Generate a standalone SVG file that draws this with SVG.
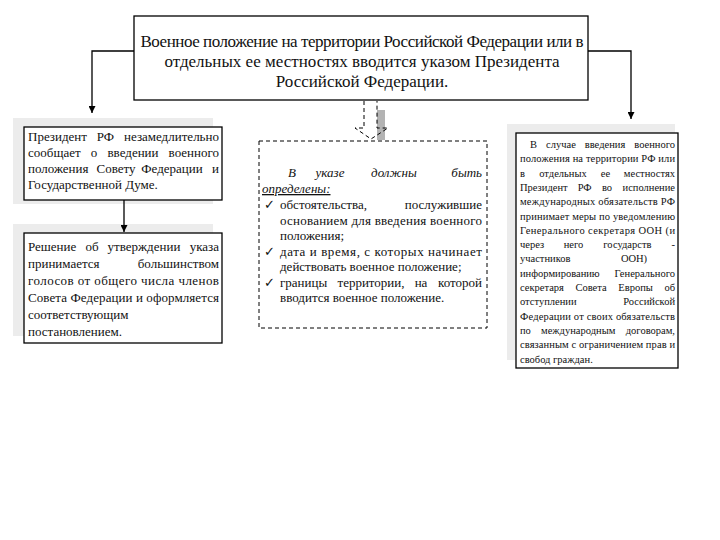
<svg xmlns="http://www.w3.org/2000/svg" width="720" height="540" viewBox="0 0 720 540">
<defs>
<marker id="ah" viewBox="0 0 10 10" refX="10" refY="5" markerWidth="7" markerHeight="7" markerUnits="userSpaceOnUse" orient="auto"><path d="M0,0 L10,5 L0,10 z" fill="#000"/></marker>
<style>
text{font-family:"Liberation Serif","DejaVu Serif",serif;fill:#111}
.t{font-size:17px}
.l{font-size:13px}
.c{font-size:13px}
.r{font-size:10.5px}
.s{text-anchor:start}.m{text-anchor:middle}.e{text-anchor:end}
.box{fill:#fff;stroke:#000;stroke-width:1.3}
.sh{fill:#ececec}
.conn{fill:none;stroke:#000;stroke-width:1.3}
</style>
</defs>
<rect width="720" height="540" fill="#fff"/>

<g id="shadows">
<rect class="sh" x="13" y="118" width="200" height="86"/>
<rect class="sh" x="13" y="224" width="200" height="112"/>
<rect class="sh" x="507" y="124" width="168" height="236"/>
</g>

<g id="connectors">
<path class="conn" d="M134,51 H92 V113" marker-end="url(#ah)"/>
<path class="conn" d="M588,51 H631 V119" marker-end="url(#ah)"/>
<path class="conn" d="M124,200 V232" marker-end="url(#ah)"/>
<rect x="377" y="110" width="8" height="30" fill="#b3b3b3"/>
<path d="M364,101 V128 H355 L371,139 L388,128 H377 V101" fill="none" stroke="#000" stroke-width="1" stroke-dasharray="4,3"/>
</g>

<g id="top">
<rect class="box" x="134" y="16" width="454" height="84"/>
<text class="t m" x="362" y="47" textLength="443" lengthAdjust="spacing">Военное положение на территории Российской Федерации или в</text>
<text class="t m" x="362" y="67">отдельных ее местностях вводится указом Президента</text>
<text class="t m" x="362" y="87">Российской Федерации.</text>
</g>

<g id="box1">
<rect class="box" x="24" y="127" width="198" height="73"/>
<text class="l"><tspan class="s" x="28" y="141">Президент</tspan><tspan class="m" x="105.5" y="141">РФ</tspan><tspan class="e" x="219" y="141">незамедлительно</tspan></text>
<text class="l"><tspan class="s" x="28" y="157">сообщает</tspan><tspan class="m" x="94" y="157">о</tspan><tspan class="m" x="133" y="157">введении</tspan><tspan class="e" x="219" y="157">военного</tspan></text>
<text class="l"><tspan class="s" x="28" y="173">положения</tspan><tspan class="m" x="116" y="173">Совету</tspan><tspan class="m" x="172" y="173">Федерации</tspan><tspan class="e" x="219" y="173">и</tspan></text>
<text class="l s" x="28" y="189">Государственной Думе.</text>
</g>

<g id="box2">
<rect class="box" x="24" y="233" width="198" height="110"/>
<text class="l"><tspan class="s" x="28" y="251">Решение</tspan><tspan class="m" x="92" y="251">об</tspan><tspan class="m" x="144" y="251">утверждении</tspan><tspan class="e" x="219" y="251">указа</tspan></text>
<text class="l"><tspan class="s" x="28" y="268">принимается</tspan><tspan class="e" x="219" y="268">большинством</tspan></text>
<text class="l s" x="28" y="285" textLength="191" lengthAdjust="spacing">голосов от общего числа членов</text>
<text class="l s" x="28" y="302" textLength="191" lengthAdjust="spacing">Совета Федерации и оформляется</text>
<text class="l s" x="28" y="319">соответствующим</text>
<text class="l s" x="28" y="336">постановлением.</text>
</g>

<g id="center">
<rect x="259" y="141" width="228" height="187" fill="#fff" stroke="#000" stroke-width="1" stroke-dasharray="4,3"/>
<text class="c" font-style="italic"><tspan class="s" x="288" y="177">В</tspan><tspan class="m" x="330" y="177">указе</tspan><tspan class="m" x="394" y="177">должны</tspan><tspan class="e" x="482" y="177">быть</tspan></text>
<text class="c s" x="262" y="193" font-style="italic" text-decoration="underline">определены:</text>
<text class="c s" x="264" y="209">✓</text>
<text class="c"><tspan class="s" x="280" y="209">обстоятельства,</tspan><tspan class="e" x="482" y="209">послужившие</tspan></text>
<text class="c s" x="280" y="224.5" textLength="202" lengthAdjust="spacing">основанием для введения военного</text>
<text class="c s" x="280" y="240">положения;</text>
<text class="c s" x="264" y="255.5">✓</text>
<text class="c s" x="280" y="255.5" textLength="202" lengthAdjust="spacing">дата и время, с которых начинает</text>
<text class="c s" x="280" y="271">действовать военное положение;</text>
<text class="c s" x="264" y="286.5">✓</text>
<text class="c"><tspan class="s" x="280" y="286.5">границы</tspan><tspan class="m" x="371" y="286.5">территории,</tspan><tspan class="m" x="421" y="286.5">на</tspan><tspan class="e" x="482" y="286.5">которой</tspan></text>
<text class="c s" x="280" y="302">вводится военное положение.</text>
</g>

<g id="right">
<rect class="box" x="516" y="133" width="162" height="235"/>
<text class="r"><tspan class="s" x="530" y="148">В</tspan><tspan class="m" x="561" y="148">случае</tspan><tspan class="m" x="605" y="148">введения</tspan><tspan class="e" x="675" y="148">военного</tspan></text>
<text class="r s" x="520" y="162.3" textLength="155" lengthAdjust="spacing">положения на территории РФ или</text>
<text class="r"><tspan class="s" x="520" y="176.6">в</tspan><tspan class="m" x="563" y="176.6">отдельных</tspan><tspan class="m" x="605.5" y="176.6">ее</tspan><tspan class="e" x="675" y="176.6">местностях</tspan></text>
<text class="r"><tspan class="s" x="520" y="190.9">Президент</tspan><tspan class="m" x="584.7" y="190.9">РФ</tspan><tspan class="m" x="607" y="190.9">во</tspan><tspan class="e" x="675" y="190.9">исполнение</tspan></text>
<text class="r s" x="520" y="205.2" textLength="155" lengthAdjust="spacing">международных обязательств РФ</text>
<text class="r s" x="520" y="219.5" textLength="155" lengthAdjust="spacing">принимает меры по уведомлению</text>
<text class="r s" x="520" y="233.8" textLength="155" lengthAdjust="spacing">Генерального секретаря ООН (и</text>
<text class="r"><tspan class="s" x="520" y="248.1">через</tspan><tspan class="m" x="573.5" y="248.1">него</tspan><tspan class="m" x="627.4" y="248.1">государств</tspan><tspan class="e" x="675" y="248.1">-</tspan></text>
<text class="r"><tspan class="s" x="520" y="262.4">участников</tspan><tspan class="m" x="634" y="262.4">ООН)</tspan></text>
<text class="r"><tspan class="s" x="520" y="276.7">информированию</tspan><tspan class="e" x="675" y="276.7">Генерального</tspan></text>
<text class="r"><tspan class="s" x="520" y="291">секретаря</tspan><tspan class="m" x="591" y="291">Совета</tspan><tspan class="m" x="635.6" y="291">Европы</tspan><tspan class="e" x="675" y="291">об</tspan></text>
<text class="r"><tspan class="s" x="520" y="305.3">отступлении</tspan><tspan class="e" x="675" y="305.3">Российской</tspan></text>
<text class="r s" x="520" y="319.6" textLength="155" lengthAdjust="spacing">Федерации от своих обязательств</text>
<text class="r"><tspan class="s" x="520" y="333.9">по</tspan><tspan class="m" x="578.2" y="333.9">международным</tspan><tspan class="e" x="675" y="333.9">договорам,</tspan></text>
<text class="r s" x="520" y="348.2" textLength="155" lengthAdjust="spacing">связанным с ограничением прав и</text>
<text class="r s" x="520" y="362.5">свобод граждан.</text>
</g>
</svg>
